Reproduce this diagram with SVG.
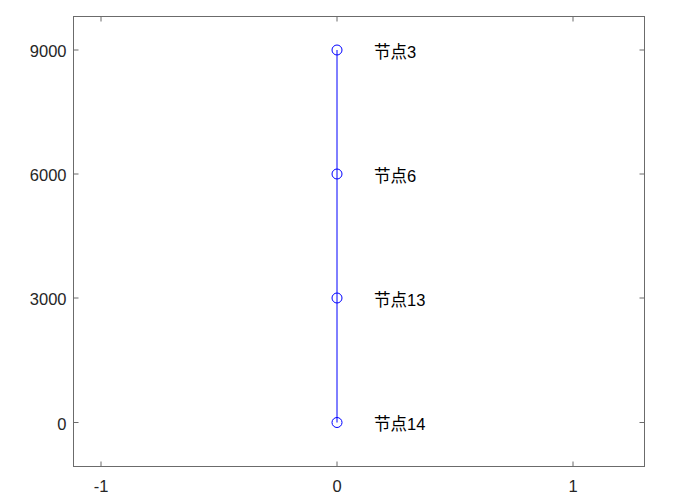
<svg xmlns="http://www.w3.org/2000/svg" width="681" height="502" viewBox="0 0 681 502">
<style>
.ax{stroke:#6b6b6b;stroke-width:1;fill:none}
.tk{font-family:"Liberation Sans",Arial,sans-serif;font-size:16.5px;fill:#262626}
.lb{font-family:"Liberation Sans","Noto Sans CJK SC",sans-serif;font-size:16.5px;fill:#000}
.nd{fill:none;stroke:#0000ff;stroke-width:1}
</style>
<rect width="681" height="502" fill="#fff"/>
<g id="axes">
<rect class="ax" x="73.5" y="16.5" width="571" height="450"/>
<path class="ax" d="M101 466.5v-5M337 466.5v-5M573 466.5v-5M101 16.5v5M337 16.5v5M573 16.5v5M73.5 50h5M73.5 174h5M73.5 298h5M73.5 422.5h5M644.5 50h-5M644.5 174h-5M644.5 298h-5M644.5 422.5h-5"/>
<text class="tk" x="66.5" y="57" text-anchor="end">9000</text>
<text class="tk" x="66.5" y="181" text-anchor="end">6000</text>
<text class="tk" x="66.5" y="305" text-anchor="end">3000</text>
<text class="tk" x="66.5" y="430" text-anchor="end">0</text>
<text class="tk" x="101" y="492" text-anchor="middle">-1</text>
<text class="tk" x="337" y="492" text-anchor="middle">0</text>
<text class="tk" x="573" y="492" text-anchor="middle">1</text>
</g>
<g id="connectors">
<path d="M337 50V422.5" stroke="#0000ff" stroke-width="1" fill="none"/>
</g>
<g id="node3"><circle class="nd" cx="337" cy="50" r="5"/><text class="lb" x="374" y="57.5">节点3</text></g>
<g id="node6"><circle class="nd" cx="337" cy="174" r="5"/><text class="lb" x="374" y="181.5">节点6</text></g>
<g id="node13"><circle class="nd" cx="337" cy="298" r="5"/><text class="lb" x="374" y="305.5">节点13</text></g>
<g id="node14"><circle class="nd" cx="337" cy="422.5" r="5"/><text class="lb" x="374" y="430">节点14</text></g>
</svg>
